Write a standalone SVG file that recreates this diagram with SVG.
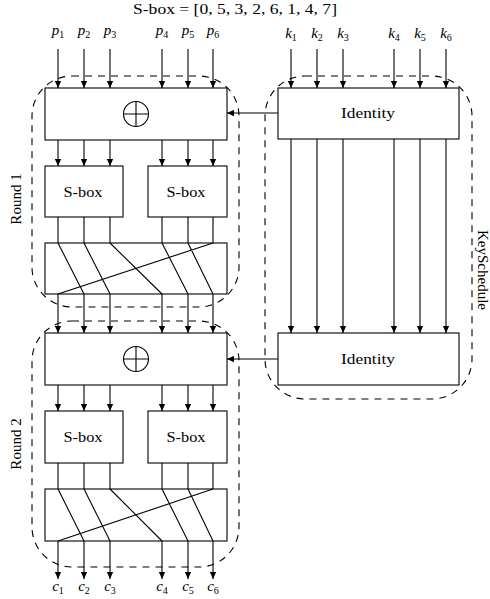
<svg xmlns="http://www.w3.org/2000/svg" width="490" height="599" viewBox="0 0 490 599">
<style>
.box{fill:#fff;stroke:#000;stroke-width:1.1}
.ln{fill:none;stroke:#000;stroke-width:1.1}
.ar{fill:none;stroke:#000;stroke-width:1.1;marker-end:url(#ah)}
.dash{fill:none;stroke:#000;stroke-width:1.1;stroke-dasharray:7 6}
.t{font-family:"Liberation Serif","DejaVu Serif",serif;font-size:15px;fill:#000;text-anchor:middle}
.v{font-family:"Liberation Serif","DejaVu Serif",serif;font-size:15px;font-style:italic;fill:#000;text-anchor:middle}
.s{font-style:normal;font-size:10px}
</style>
<defs>
<marker id="ah" viewBox="0 0 10 10" refX="10" refY="5" markerWidth="7" markerHeight="7" markerUnits="userSpaceOnUse" orient="auto">
<path d="M0,0.5 L10,5 L0,9.5 z" fill="#000"/>
</marker>
</defs>
<rect width="490" height="599" fill="#fff"/>

<text id="title" class="t" x="235" y="14" font-size="14" textLength="204" lengthAdjust="spacingAndGlyphs">S-box = [0, 5, 3, 2, 6, 1, 4, 7]</text>

<g id="round1-frame">
<rect class="dash" x="32" y="76" width="207" height="231" rx="40" ry="40"/>
<text class="t" transform="translate(21,199) rotate(-90)">Round 1</text>
</g>
<g id="round2-frame">
<rect class="dash" x="32" y="321" width="207" height="246" rx="40" ry="40"/>
<text class="t" transform="translate(21,444) rotate(-90)">Round 2</text>
</g>
<g id="keyschedule-frame">
<rect class="dash" x="265" y="76" width="207" height="323" rx="40" ry="40"/>
<text class="t" transform="translate(478,270) rotate(90)">KeySchedule</text>
</g>

<g id="connectors">
<!-- plaintext inputs -->
<line class="ar" x1="58" y1="49" x2="58" y2="88"/>
<line class="ar" x1="84" y1="49" x2="84" y2="88"/>
<line class="ar" x1="110" y1="49" x2="110" y2="88"/>
<line class="ar" x1="162" y1="49" x2="162" y2="88"/>
<line class="ar" x1="188" y1="49" x2="188" y2="88"/>
<line class="ar" x1="213" y1="49" x2="213" y2="88"/>
<!-- key inputs -->
<line class="ar" x1="291" y1="49" x2="291" y2="88"/>
<line class="ar" x1="317" y1="49" x2="317" y2="88"/>
<line class="ar" x1="343" y1="49" x2="343" y2="88"/>
<line class="ar" x1="394" y1="49" x2="394" y2="88"/>
<line class="ar" x1="420" y1="49" x2="420" y2="88"/>
<line class="ar" x1="446" y1="49" x2="446" y2="88"/>
<!-- round 1 xor to sbox -->
<line class="ar" x1="58" y1="140" x2="58" y2="166"/>
<line class="ar" x1="84" y1="140" x2="84" y2="166"/>
<line class="ar" x1="110" y1="140" x2="110" y2="166"/>
<line class="ar" x1="162" y1="140" x2="162" y2="166"/>
<line class="ar" x1="188" y1="140" x2="188" y2="166"/>
<line class="ar" x1="213" y1="140" x2="213" y2="166"/>
<!-- round 1 sbox to perm -->
<path class="ln" d="M58,217V243M84,217V243M110,217V243M162,217V243M188,217V243M213,217V243"/>
<!-- round 1 to round 2 -->
<line class="ar" x1="58" y1="294" x2="58" y2="333"/>
<line class="ar" x1="84" y1="294" x2="84" y2="333"/>
<line class="ar" x1="110" y1="294" x2="110" y2="333"/>
<line class="ar" x1="162" y1="294" x2="162" y2="333"/>
<line class="ar" x1="188" y1="294" x2="188" y2="333"/>
<line class="ar" x1="213" y1="294" x2="213" y2="333"/>
<!-- round 2 xor to sbox -->
<line class="ar" x1="58" y1="385" x2="58" y2="411"/>
<line class="ar" x1="84" y1="385" x2="84" y2="411"/>
<line class="ar" x1="110" y1="385" x2="110" y2="411"/>
<line class="ar" x1="162" y1="385" x2="162" y2="411"/>
<line class="ar" x1="188" y1="385" x2="188" y2="411"/>
<line class="ar" x1="213" y1="385" x2="213" y2="411"/>
<!-- round 2 sbox to perm -->
<path class="ln" d="M58,463V489M84,463V489M110,463V489M162,463V489M188,463V489M213,463V489"/>
<!-- outputs -->
<line class="ar" x1="58" y1="541" x2="58" y2="579"/>
<line class="ar" x1="84" y1="541" x2="84" y2="579"/>
<line class="ar" x1="110" y1="541" x2="110" y2="579"/>
<line class="ar" x1="162" y1="541" x2="162" y2="579"/>
<line class="ar" x1="188" y1="541" x2="188" y2="579"/>
<line class="ar" x1="213" y1="541" x2="213" y2="579"/>
<!-- key schedule identity to identity -->
<line class="ar" x1="291" y1="139" x2="291" y2="333"/>
<line class="ar" x1="317" y1="139" x2="317" y2="333"/>
<line class="ar" x1="343" y1="139" x2="343" y2="333"/>
<line class="ar" x1="394" y1="139" x2="394" y2="333"/>
<line class="ar" x1="420" y1="139" x2="420" y2="333"/>
<line class="ar" x1="446" y1="139" x2="446" y2="333"/>
<!-- round keys -->
<line class="ar" x1="278" y1="113" x2="227" y2="113"/>
<line class="ar" x1="278" y1="359" x2="227" y2="359"/>
</g>

<g id="xor1">
<rect class="box" x="45" y="88" width="182" height="52"/>
<circle class="ln" cx="136" cy="114" r="12.5"/>
<path class="ln" d="M123.5,114H148.5M136,101.5V126.5"/>
</g>
<g id="sbox1a">
<rect class="box" x="45" y="166" width="78" height="51"/>
<text class="t" x="83" y="196.5" textLength="39" lengthAdjust="spacingAndGlyphs">S-box</text>
</g>
<g id="sbox1b">
<rect class="box" x="148" y="166" width="79" height="51"/>
<text class="t" x="186" y="196.5" textLength="39" lengthAdjust="spacingAndGlyphs">S-box</text>
</g>
<g id="perm1">
<rect class="box" x="45" y="243" width="182" height="51"/>
<path class="ln" d="M58,243L84,294M84,243L110,294M110,243L162,294M162,243L188,294M188,243L213,294M213,243L58,294"/>
</g>

<g id="xor2">
<rect class="box" x="45" y="333" width="182" height="52"/>
<circle class="ln" cx="136" cy="359" r="12.5"/>
<path class="ln" d="M123.5,359H148.5M136,346.5V371.5"/>
</g>
<g id="sbox2a">
<rect class="box" x="45" y="411" width="78" height="52"/>
<text class="t" x="83" y="442" textLength="39" lengthAdjust="spacingAndGlyphs">S-box</text>
</g>
<g id="sbox2b">
<rect class="box" x="148" y="411" width="79" height="52"/>
<text class="t" x="186" y="442" textLength="39" lengthAdjust="spacingAndGlyphs">S-box</text>
</g>
<g id="perm2">
<rect class="box" x="45" y="489" width="182" height="52"/>
<path class="ln" d="M58,489L84,541M84,489L110,541M110,489L162,541M162,489L188,541M188,489L213,541M213,489L58,541"/>
</g>

<g id="identity1">
<rect class="box" x="278" y="88" width="181" height="51"/>
<text class="t" x="368" y="118" textLength="54" lengthAdjust="spacingAndGlyphs">Identity</text>
</g>
<g id="identity2">
<rect class="box" x="278" y="333" width="181" height="52"/>
<text class="t" x="368" y="364" textLength="54" lengthAdjust="spacingAndGlyphs">Identity</text>
</g>

<g id="inputs">
<text class="v" x="58" y="35">p<tspan class="s" dy="3">1</tspan></text>
<text class="v" x="84" y="35">p<tspan class="s" dy="3">2</tspan></text>
<text class="v" x="110" y="35">p<tspan class="s" dy="3">3</tspan></text>
<text class="v" x="162" y="35">p<tspan class="s" dy="3">4</tspan></text>
<text class="v" x="188" y="35">p<tspan class="s" dy="3">5</tspan></text>
<text class="v" x="213" y="35">p<tspan class="s" dy="3">6</tspan></text>
</g>
<g id="keys">
<text class="v" x="291" y="38">k<tspan class="s" dy="3">1</tspan></text>
<text class="v" x="317" y="38">k<tspan class="s" dy="3">2</tspan></text>
<text class="v" x="343" y="38">k<tspan class="s" dy="3">3</tspan></text>
<text class="v" x="394" y="38">k<tspan class="s" dy="3">4</tspan></text>
<text class="v" x="420" y="38">k<tspan class="s" dy="3">5</tspan></text>
<text class="v" x="446" y="38">k<tspan class="s" dy="3">6</tspan></text>
</g>
<g id="outputs">
<text class="v" x="58" y="591">c<tspan class="s" dy="3">1</tspan></text>
<text class="v" x="84" y="591">c<tspan class="s" dy="3">2</tspan></text>
<text class="v" x="110" y="591">c<tspan class="s" dy="3">3</tspan></text>
<text class="v" x="162" y="591">c<tspan class="s" dy="3">4</tspan></text>
<text class="v" x="188" y="591">c<tspan class="s" dy="3">5</tspan></text>
<text class="v" x="213" y="591">c<tspan class="s" dy="3">6</tspan></text>
</g>
</svg>
